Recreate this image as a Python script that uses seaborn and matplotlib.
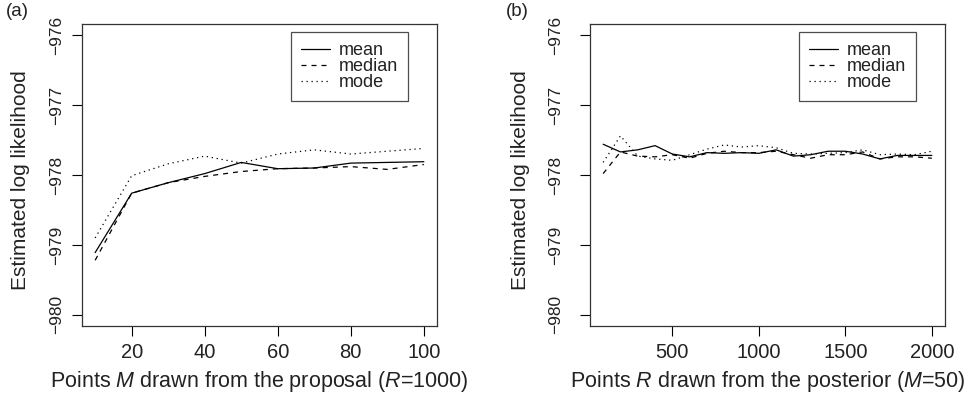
import numpy as np
import pandas as pd
import matplotlib
matplotlib.use("Agg")
import matplotlib.pyplot as plt
import seaborn as sns

# Panel (a): points M drawn from the proposal (R = 1000)
m_points = [10, 20, 30, 40, 50, 60, 70, 80, 90, 100]
a_mean = [-979.11, -978.26, -978.11, -977.98, -977.82, -977.91, -977.90, -977.83, -977.82, -977.81]
a_median = [-979.22, -978.26, -978.11, -978.02, -977.95, -977.91, -977.90, -977.88, -977.92, -977.85]
a_mode = [-978.90, -978.01, -977.84, -977.73, -977.83, -977.70, -977.64, -977.70, -977.66, -977.62]

# Panel (b): points R drawn from the posterior (M = 50)
r_points = [100, 200, 300, 400, 500, 600, 700, 800, 900, 1000,
            1100, 1200, 1300, 1400, 1500, 1600, 1700, 1800, 1900, 2000]
b_mean = [-977.56, -977.67, -977.64, -977.58, -977.70, -977.74, -977.68, -977.69, -977.68, -977.69,
          -977.64, -977.73, -977.71, -977.66, -977.66, -977.70, -977.77, -977.72, -977.72, -977.72]
b_median = [-977.98, -977.67, -977.73, -977.74, -977.71, -977.76, -977.69, -977.66, -977.68, -977.68,
            -977.66, -977.71, -977.76, -977.71, -977.71, -977.67, -977.77, -977.74, -977.74, -977.76]
b_mode = [-977.82, -977.44, -977.73, -977.77, -977.79, -977.71, -977.63, -977.57, -977.60, -977.58,
          -977.61, -977.69, -977.70, -977.69, -977.68, -977.64, -977.71, -977.70, -977.71, -977.66]

stats = ["mean", "median", "mode"]
y_ticks = [-980, -979, -978, -977, -976]
a_xticks = [20, 40, 60, 80, 100]
b_xticks = [500, 1000, 1500, 2000]

sns.set_theme(style="ticks")
plt.rcParams["font.family"] = ["Liberation Sans", "DejaVu Sans"]
plt.rcParams["mathtext.fontset"] = "custom"
plt.rcParams["mathtext.rm"] = "Liberation Sans"
plt.rcParams["mathtext.it"] = "Liberation Sans:italic"

def long_df(x, series):
    rows = []
    for name, vals in zip(stats, series):
        for xi, v in zip(x, vals):
            rows.append({"x": xi, "y": v, "stat": name})
    return pd.DataFrame(rows)

dashes = {"mean": "", "median": (4, 4), "mode": (1, 3)}
TXT = "#222222"
W, H = 968, 399

fig = plt.figure(figsize=(9.68, 3.99), dpi=100)
ax_a = fig.add_axes([82 / W, 1 - 326 / H, (437 - 82) / W, (326 - 24) / H])
ax_b = fig.add_axes([590 / W, 1 - 326 / H, (945 - 590) / W, (326 - 24) / H])

# (axes, data, xticks, xlim, xlabel, tag, tag_x, ylabel_x, ytick_pad)
panels = [
    (ax_a, long_df(m_points, [a_mean, a_median, a_mode]), a_xticks, (6.4, 103.6),
     r"Points $M$ drawn from the proposal ($R$=1000)", "(a)", 6, 21, 6),
    (ax_b, long_df(r_points, [b_mean, b_median, b_mode]), b_xticks, (24, 2076),
     r"Points $R$ drawn from the posterior ($M$=50)", "(b)", 506, 520, 12),
]

for ax, df, xt, xl, xlabel, tag, tag_x, ylab_x, ypad in panels:
    sns.lineplot(data=df, x="x", y="y", style="stat", style_order=stats, dashes=dashes,
                 color="black", linewidth=0.9, ax=ax, legend=True)
    ax.set_xlim(*xl)
    ax.set_ylim(-980.16, -975.84)
    ax.set_xticks(xt)
    ax.set_yticks(y_ticks)
    ax.set_yticklabels([str(t).replace("-", "\u2212") for t in y_ticks], rotation=90, va="center")
    ax.tick_params(axis="both", direction="out", length=7, width=0.8, color="black",
                   labelcolor=TXT)
    ax.tick_params(axis="x", labelsize=14.5, pad=5)
    ax.tick_params(axis="y", labelsize=12.5, pad=ypad)
    for s in ax.spines.values():
        s.set_color("#333333")
        s.set_linewidth(0.9)
    ax.set_xlabel("")
    ax.set_ylabel("")
    bbox = ax.get_position()
    fig.text(bbox.x0 + bbox.width / 2, 1 - 381 / H, xlabel, fontsize=15.5, color=TXT,
             ha="center", va="center")
    fig.text(ylab_x / W, 1 - 180 / H, "Estimated log likelihood", fontsize=15,
             color=TXT, rotation=90, ha="center", va="center")
    handles, labels = ax.get_legend_handles_labels()
    leg = ax.legend(handles, labels, loc="upper right", bbox_to_anchor=(0.918, 0.9735),
                    fontsize=13, frameon=True, fancybox=False, handlelength=1.6,
                    borderpad=0.55, labelspacing=-0.05, handletextpad=0.5, borderaxespad=0)
    leg.get_frame().set_edgecolor(TXT)
    leg.get_frame().set_linewidth(0.9)
    for t in leg.get_texts():
        t.set_color(TXT)
    fig.text(tag_x / W, 1 - 12 / H, tag, fontsize=13.5, color=TXT, va="center", ha="left")

fig.savefig("out.png", dpi=100)
